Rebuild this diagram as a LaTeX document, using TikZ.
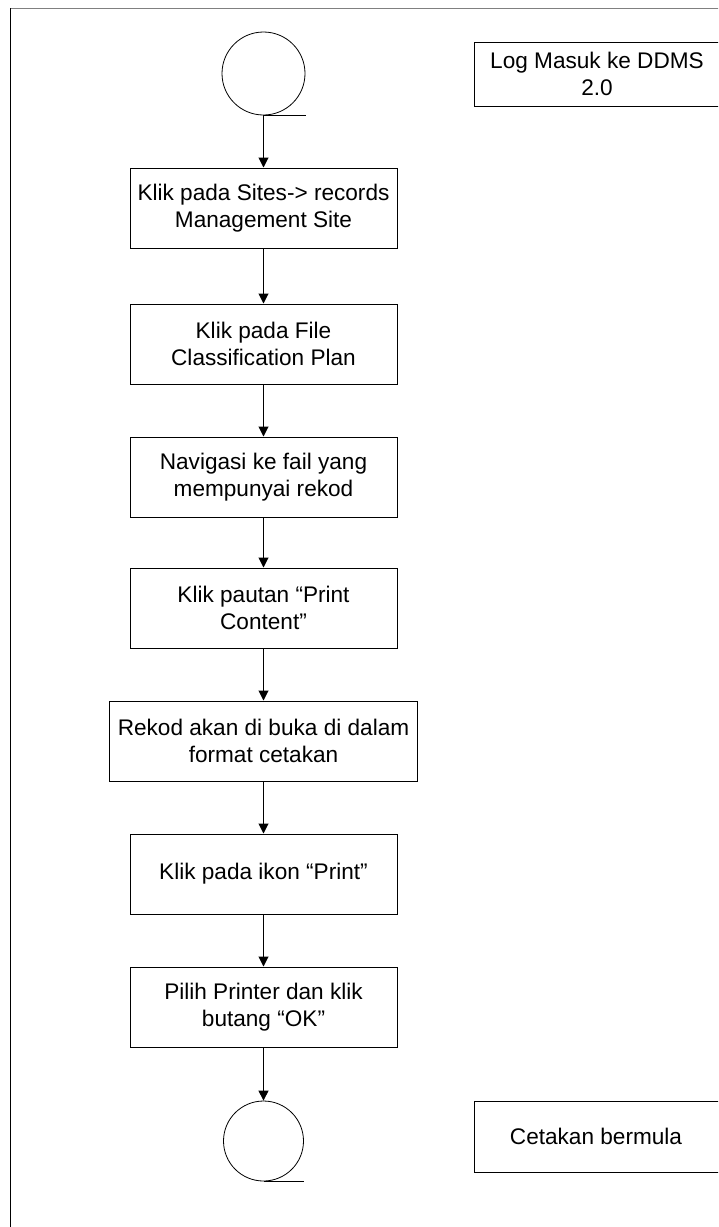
\documentclass[tikz,border=0pt]{standalone}
\usepackage{fontspec}
\setmainfont{Liberation Sans}
\usetikzlibrary{arrows.meta}
\begin{document}
\begin{tikzpicture}[x=1pt,y=-1pt,
  font=\fontsize{22.6}{26.5}\selectfont,
  stepbox/.style={draw=black,line width=1pt,rectangle,align=center,inner sep=0pt,minimum height=80pt},
  sidebox/.style={draw=black,line width=1pt,rectangle,align=center,inner sep=0pt},
  term/.style={draw=black,line width=0.8pt,circle,inner sep=0pt},
  arr/.style={line width=1pt,-{Triangle[width=10pt,length=10pt]}},
  tick/.style={line width=1pt}]
\useasboundingbox (0,0) rectangle (718,1227);
\clip (0,0) rectangle (718,1227);
% frame
\draw[line width=1.3pt,color=gray] (10,8.5) -- (720,8.5);
\draw[line width=1pt,color=black] (10.3,8) -- (10.3,1230);
% start
\node[term,minimum size=83pt] (start) at (263.5,73.5) {};
\draw[tick] (start.south) -- ++(42,0);
% steps
\node[stepbox,minimum width=267pt] (b1) at (263.5,208) {Klik pada Sites-> records\\Management Site};
\node[stepbox,minimum width=267pt] (b2) at (263.5,344) {Klik pada File\\Classification Plan};
\node[stepbox,minimum width=267pt] (b3) at (263.5,477) {Navigasi ke fail yang\\mempunyai rekod};
\node[stepbox,minimum width=267pt] (b4) at (263.5,608) {Klik pautan “Print\\Content”};
\node[stepbox,minimum width=308pt] (b5) at (263.5,741) {Rekod akan di buka di dalam\\format cetakan};
\node[stepbox,minimum width=267pt] (b6) at (263.5,874) {Klik pada ikon “Print”};
\node[stepbox,minimum width=267pt] (b7) at (263.5,1007) {Pilih Printer dan klik\\butang “OK”};
% end
\node[term,minimum size=80pt] (end) at (263.5,1141) {};
\draw[tick] (end.south) -- ++(40,0);
% side boxes (right edge runs past the page)
\node[sidebox,minimum width=252pt,minimum height=64pt] (login) at (600,74) {\hspace*{-6pt}Log Masuk ke DDMS\\\hspace*{-6pt}2.0};
\node[sidebox,minimum width=252pt,minimum height=71pt] (done) at (600,1136.5) {\hspace*{-8pt}Cetakan bermula};
% connectors
\draw[arr] (start) -- (b1);
\draw[arr] (b1) -- (b2);
\draw[arr] (b2) -- (b3);
\draw[arr] (b3) -- (b4);
\draw[arr] (b4) -- (b5);
\draw[arr] (b5) -- (b6);
\draw[arr] (b6) -- (b7);
\draw[arr] (b7) -- (end);
\end{tikzpicture}
\end{document}
